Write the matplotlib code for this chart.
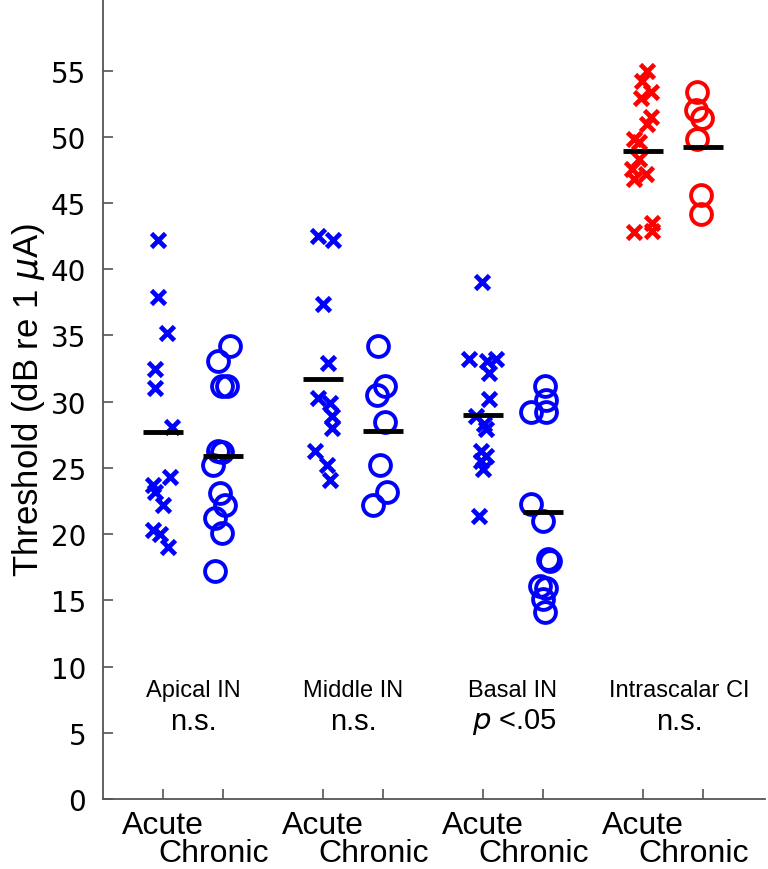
import matplotlib
matplotlib.use("Agg")
import matplotlib.pyplot as plt
import matplotlib.transforms as mtransforms

NARROW = ['Liberation Sans Narrow', 'Liberation Sans', 'DejaVu Sans']

# ---- data ----
groups = ['Apical IN', 'Middle IN', 'Basal IN', 'Intrascalar CI']
stats = ['n.s.', 'n.s.', 'p', 'n.s.']
conditions = ['Acute', 'Chronic']

apical_acute = [42.2, 37.9, 35.2, 32.5, 31.0, 28.1, 24.3, 23.7, 23.2, 22.2, 20.3, 20.0, 19.0]
apical_acute_jit = [-5, -5, 4, -8, -8, 9, 7, -10, -8, 0, -10, -3, 5]
apical_chronic = [34.2, 33.1, 31.2, 31.2, 26.3, 26.2, 25.2, 23.1, 22.2, 21.2, 20.1, 17.2]
apical_chronic_jit = [7, -5, -1, 4, -5, -1, -10, -3, 2, -8, -1, -8]

middle_acute = [42.5, 42.2, 37.4, 32.9, 30.3, 29.9, 28.9, 28.0, 26.3, 25.2, 24.1]
middle_acute_jit = [-5, 10, 0, 5, -5, 7, 9, 9, -8, 4, 7]
middle_chronic = [34.2, 31.2, 30.5, 28.5, 25.2, 23.2, 22.2]
middle_chronic_jit = [-5, 2, -6, 2, -3, 4, -10]

basal_acute = [39.0, 33.2, 33.1, 33.2, 32.2, 30.2, 28.9, 28.3, 27.9, 26.3, 25.9, 25.5, 24.9, 21.4]
basal_acute_jit = [-1, -14, 4, 13, 6, 6, -7, 1, 3, -2, 3, -2, 0, -4]
basal_chronic = [31.2, 30.1, 29.2, 29.2, 22.3, 21.0, 18.1, 18.0, 16.1, 15.9, 15.1, 14.1]
basal_chronic_jit = [2, 3, -12, 3, -12, 0, 5, 7, -3, 3, 0, 2]

intra_acute = [55.0, 54.2, 53.4, 52.9, 51.5, 51.0, 49.8, 49.6, 48.3, 47.6, 47.2, 46.8, 43.5, 42.9, 42.8]
intra_acute_jit = [4, -1, 8, -2, 8, 4, -9, -4, -4, -11, 3, -9, 9, 9, -9]
intra_chronic = [53.4, 52.0, 51.4, 49.8, 45.6, 44.2]
intra_chronic_jit = [-6, -7, -1, -6, -2, -2]

means_acute = [27.7, 31.7, 29.0, 48.95]
means_chronic = [25.9, 27.8, 21.7, 49.2]

yticks = list(range(0, 60, 5))

acute_sets = [(apical_acute, apical_acute_jit), (middle_acute, middle_acute_jit),
              (basal_acute, basal_acute_jit), (intra_acute, intra_acute_jit)]
chronic_sets = [(apical_chronic, apical_chronic_jit), (middle_chronic, middle_chronic_jit),
                (basal_chronic, basal_chronic_jit), (intra_chronic, intra_chronic_jit)]
colors = ['#0000ff', '#0000ff', '#0000ff', '#ff0000']

# ---- layout ----
fig = plt.figure(figsize=(7.68, 8.70), dpi=100)
ax = fig.add_axes([103 / 768, 70 / 870, 662 / 768, 800 / 870])

PX = 60.0  # pixels per x-unit
group_step = 160 / PX
acute_pos = [1 + i * group_step for i in range(4)]
chronic_pos = [p + 1 for p in acute_pos]

for i in range(4):
    vals, jit = acute_sets[i]
    ax.plot([acute_pos[i] + j / PX for j in jit], vals, linestyle='none', marker='x',
            color=colors[i], markersize=10.5, markeredgewidth=3.4, zorder=3)
    vals, jit = chronic_sets[i]
    ax.plot([chronic_pos[i] + j / PX for j in jit], vals, linestyle='none', marker='o',
            markerfacecolor='none', markeredgecolor=colors[i], markersize=15,
            markeredgewidth=2.8, zorder=3)
    half = 20 / PX
    ax.plot([acute_pos[i] - half, acute_pos[i] + half], [means_acute[i]] * 2,
            color='black', lw=3.5, solid_capstyle='butt', zorder=4)
    ax.plot([chronic_pos[i] - half, chronic_pos[i] + half], [means_chronic[i]] * 2,
            color='black', lw=3.5, solid_capstyle='butt', zorder=4)

ax.set_xlim(0, 662 / PX)
ax.set_ylim(0, 60.4)
ax.spines['top'].set_visible(False)
ax.spines['right'].set_visible(False)
for s in ['left', 'bottom']:
    ax.spines[s].set_color('#555555')
    ax.spines[s].set_linewidth(1.3)

ax.set_yticks(yticks)
ax.set_yticklabels([str(t) for t in yticks], fontsize=20, family='DejaVu Sans')
ax.tick_params(axis='y', direction='in', length=7, width=1.2, color='#555555', pad=12)

ticks_x = []
for a, c in zip(acute_pos, chronic_pos):
    ticks_x += [a, c]
ax.set_xticks(ticks_x)
ax.set_xticklabels([])
ax.tick_params(axis='x', direction='in', length=7, width=1.2, color='#555555')

trans = mtransforms.blended_transform_factory(ax.transData, ax.transAxes)
for a, c in zip(acute_pos, chronic_pos):
    ax.text(a, -0.033, conditions[0], transform=trans, ha='center', va='center',
            fontsize=23, family=NARROW)
    ax.text(c - 9 / PX, -0.0675, conditions[1], transform=trans, ha='center', va='center',
            fontsize=23, family=NARROW)

for i in range(4):
    cx = (acute_pos[i] + chronic_pos[i]) / 2
    dx = 6 / PX if i == 3 else 0
    ax.text(cx + dx, 8.2, groups[i], ha='center', va='center', fontsize=17, family=NARROW)
    if stats[i] == 'p':
        ax.text(cx + 2 / PX, 5.9, r'$\it{p}$ <.05', ha='center', va='center', fontsize=21,
                family=NARROW)
    else:
        ax.text(cx + dx, 5.9, stats[i], ha='center', va='center', fontsize=21, family=NARROW)

ax.set_ylabel(r'Threshold (dB re 1 $\mu$A)', fontsize=25, family=NARROW)
ax.yaxis.set_label_coords(-56 / 662, 0.5)

fig.savefig('out.png', dpi=100)
